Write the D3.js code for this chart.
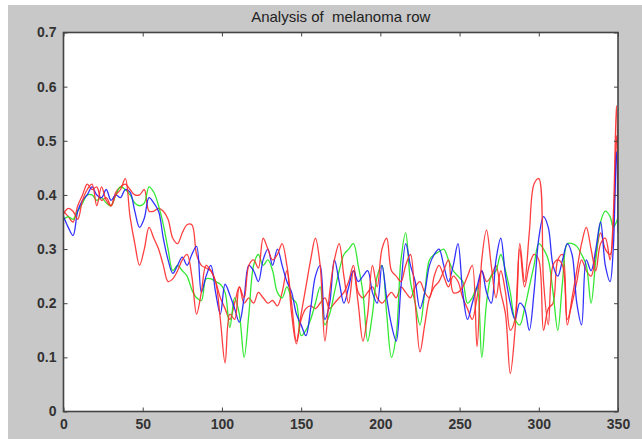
<!DOCTYPE html>
<html>
<head>
<meta charset="utf-8">
<script src="https://cdn.jsdelivr.net/npm/d3@7"></script>
<style>
  html, body { margin: 0; padding: 0; background: #fff; }
  svg { display: block; }
</style>
</head>
<body>
<div id="chart"></div>
<script>
// sample positions along the row (pixel index)
const xs = d3.range(0, 346, 3).concat([347, 349, 350]);

const blue = [0.36,0.34,0.325,0.37,0.39,0.40,0.415,0.40,0.395,0.41,0.39,0.40,0.395,0.41,0.405,0.37,0.34,0.357,0.395,0.385,
  0.37,0.32,0.28,0.255,0.27,0.285,0.27,0.29,0.305,0.22,0.25,0.27,0.22,0.18,0.235,0.215,0.19,0.165,0.21,0.27,
  0.26,0.24,0.28,0.30,0.27,0.30,0.27,0.24,0.22,0.18,0.16,0.14,0.19,0.25,0.27,0.17,0.20,0.28,0.24,0.20,
  0.23,0.26,0.24,0.25,0.26,0.22,0.20,0.27,0.21,0.16,0.13,0.23,0.31,0.27,0.24,0.19,0.22,0.27,0.29,0.30,
  0.27,0.24,0.27,0.31,0.22,0.17,0.20,0.23,0.26,0.22,0.20,0.28,0.32,0.25,0.20,0.17,0.20,0.19,0.15,0.22,
  0.32,0.36,0.34,0.27,0.25,0.28,0.31,0.29,0.20,0.16,0.28,0.26,0.30,0.35,0.27,0.24,0.30,0.48,0.33];

const green = [0.355,0.36,0.355,0.37,0.385,0.40,0.40,0.39,0.395,0.385,0.38,0.40,0.415,0.41,0.40,0.385,0.38,0.385,0.415,0.405,
  0.38,0.345,0.30,0.26,0.27,0.26,0.25,0.225,0.21,0.205,0.245,0.245,0.24,0.235,0.22,0.155,0.21,0.18,0.10,0.18,
  0.27,0.29,0.27,0.28,0.26,0.22,0.21,0.23,0.21,0.20,0.14,0.15,0.17,0.20,0.23,0.16,0.18,0.22,0.26,0.29,
  0.30,0.31,0.27,0.22,0.13,0.18,0.25,0.27,0.18,0.10,0.14,0.28,0.33,0.24,0.20,0.16,0.22,0.28,0.29,0.295,
  0.30,0.28,0.26,0.25,0.24,0.20,0.21,0.23,0.10,0.20,0.25,0.26,0.29,0.26,0.22,0.17,0.16,0.19,0.23,0.27,
  0.31,0.30,0.28,0.22,0.15,0.24,0.31,0.31,0.305,0.29,0.27,0.20,0.28,0.35,0.37,0.36,0.34,0.35,0.36];

const redA = [0.365,0.375,0.37,0.355,0.39,0.41,0.42,0.38,0.415,0.39,0.38,0.40,0.41,0.43,0.36,0.31,0.27,0.30,0.34,0.32,
  0.30,0.27,0.24,0.245,0.26,0.28,0.29,0.25,0.18,0.22,0.27,0.26,0.24,0.17,0.09,0.18,0.17,0.23,0.21,0.27,
  0.28,0.265,0.32,0.30,0.28,0.29,0.31,0.27,0.20,0.13,0.18,0.23,0.28,0.32,0.27,0.13,0.22,0.28,0.31,0.25,
  0.20,0.26,0.20,0.13,0.18,0.27,0.23,0.30,0.32,0.26,0.25,0.24,0.27,0.29,0.20,0.11,0.16,0.21,0.23,0.24,
  0.26,0.28,0.22,0.22,0.23,0.25,0.27,0.12,0.28,0.335,0.27,0.21,0.26,0.22,0.15,0.17,0.31,0.24,0.33,0.42,
  0.43,0.24,0.16,0.27,0.28,0.27,0.16,0.21,0.26,0.31,0.34,0.30,0.26,0.31,0.32,0.28,0.36,0.565,0.42];

const redB = [0.37,0.36,0.35,0.38,0.40,0.42,0.41,0.415,0.39,0.395,0.38,0.405,0.415,0.42,0.41,0.40,0.40,0.41,0.37,0.37,
  0.375,0.37,0.355,0.32,0.31,0.33,0.345,0.345,0.29,0.27,0.265,0.26,0.24,0.21,0.19,0.17,0.20,0.23,0.20,0.21,
  0.20,0.22,0.21,0.20,0.205,0.195,0.22,0.26,0.18,0.125,0.17,0.19,0.195,0.19,0.20,0.21,0.19,0.20,0.21,0.22,
  0.24,0.27,0.22,0.21,0.22,0.23,0.21,0.20,0.21,0.22,0.21,0.23,0.22,0.21,0.23,0.24,0.22,0.21,0.25,0.27,
  0.25,0.23,0.25,0.24,0.21,0.19,0.17,0.21,0.26,0.24,0.25,0.27,0.22,0.18,0.07,0.15,0.30,0.23,0.27,0.29,
  0.28,0.15,0.19,0.20,0.28,0.29,0.17,0.20,0.24,0.28,0.26,0.25,0.29,0.33,0.30,0.29,0.34,0.51,0.40];

const series = [
  { name: 'redB', values: redB, color: '#ff2a2a' },
  { name: 'green', values: green, color: '#1ee61e' },
  { name: 'blue', values: blue, color: '#1c1cff' },
  { name: 'redA', values: redA, color: '#ff2a2a' },
];

const xTicks = [0, 50, 100, 150, 200, 250, 300, 350];
const yTicks = [0, 0.1, 0.2, 0.3, 0.4, 0.5, 0.6, 0.7];
const title = 'Analysis of \u00a0melanoma row';

const W = 642, H = 439;
const margin = { top: 32.5, right: 24, bottom: 27.5, left: 63.5 };
const width = W - margin.left - margin.right;
const height = H - margin.top - margin.bottom;

const root = d3.select('#chart').append('svg').attr('width', W).attr('height', H);

// figure background (grey with a thin white border top/left)
root.append('rect').attr('x', 0).attr('y', 0).attr('width', W).attr('height', H).attr('fill', '#fff');
root.append('rect').attr('x', 8).attr('y', 5).attr('width', W - 8).attr('height', H - 5).attr('fill', '#c8c8c8');

const svg = root.append('g').attr('transform', `translate(${margin.left},${margin.top})`);

const x = d3.scaleLinear().domain([0, 350]).range([0, width]);
const y = d3.scaleLinear().domain([0, 0.7]).range([height, 0]);

svg.append('rect').attr('width', width).attr('height', height).attr('fill', '#fff');

svg.append('defs').append('clipPath').attr('id', 'clip')
  .append('rect').attr('width', width).attr('height', height);

const line = d3.line().x((d, i) => x(xs[i])).y(d => y(d)).curve(d3.curveCatmullRom.alpha(0.5));

svg.append('g').attr('clip-path', 'url(#clip)')
  .selectAll('path').data(series).join('path')
  .attr('d', d => line(d.values))
  .attr('fill', 'none').attr('stroke', d => d.color)
  .attr('stroke-width', 1.3).attr('stroke-linejoin', 'round').attr('opacity', 0.9);

const tickFont = g => g.selectAll('.tick text')
  .attr('fill', '#333').attr('font-size', '14px').attr('font-weight', '700')
  .attr('font-family', 'Liberation Sans, Arial, sans-serif');
const axisColor = '#444';

// ticks point inward, like matlab
svg.append('g').attr('transform', `translate(0,${height})`)
  .call(d3.axisBottom(x).tickValues(xTicks).tickSize(-4).tickPadding(8).tickFormat(d3.format('d')))
  .call(g => g.select('.domain').remove())
  .call(g => g.selectAll('.tick line').attr('stroke', axisColor))
  .call(tickFont);

svg.append('g')
  .call(d3.axisLeft(y).tickValues(yTicks).tickSize(-4).tickPadding(7).tickFormat(d => d === 0 ? '0' : d3.format('.1f')(d)))
  .call(g => g.select('.domain').remove())
  .call(g => g.selectAll('.tick line').attr('stroke', axisColor))
  .call(tickFont);

svg.append('g')
  .call(d3.axisTop(x).tickValues(xTicks).tickSize(-4).tickFormat(''))
  .call(g => g.select('.domain').remove())
  .call(g => g.selectAll('.tick line').attr('stroke', axisColor));

svg.append('g').attr('transform', `translate(${width},0)`)
  .call(d3.axisRight(y).tickValues(yTicks).tickSize(-4).tickFormat(''))
  .call(g => g.select('.domain').remove())
  .call(g => g.selectAll('.tick line').attr('stroke', axisColor));

svg.append('rect').attr('width', width).attr('height', height)
  .attr('fill', 'none').attr('stroke', axisColor).attr('stroke-width', 1.6);

svg.append('text').attr('x', width / 2).attr('y', -11).attr('text-anchor', 'middle')
  .attr('fill', '#222').attr('font-size', '15px')
  .attr('font-family', 'Liberation Sans, Arial, sans-serif')
  .text(title);
</script>
</body>
</html>
